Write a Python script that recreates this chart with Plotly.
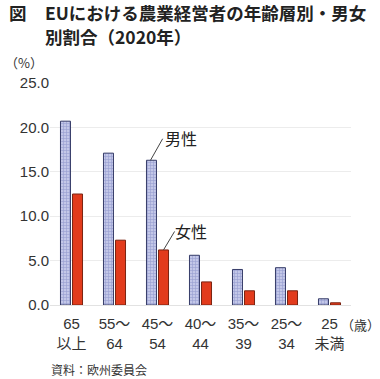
import plotly.graph_objects as go

categories = ["65<br>以上", "55～<br>64", "45～<br>54", "40～<br>44", "35～<br>39", "25～<br>34", "25<br>未満"]
male = [20.7, 17.1, 16.3, 5.6, 4.0, 4.2, 0.7]
female = [12.5, 7.3, 6.2, 2.6, 1.6, 1.6, 0.25]
y_ticks = [0, 5, 10, 15, 20, 25]
y_ticklabels = ["0.0", "5.0", "10.0", "15.0", "20.0", "25.0"]

W, H = 380, 379
L, R, T, B = 50, 29, 83, 74
PW = W - L - R
PH = H - T - B

def px(x):
    return (x - L) / PW

def py(y):
    return (H - B - y) / PH

FONT = "Liberation Sans, Arial, Noto Sans CJK JP, sans-serif"
CJK = "Noto Sans CJK JP, sans-serif"

fig = go.Figure()
fig.add_trace(go.Bar(
    x=categories, y=male, name="男性",
    marker=dict(color="#c3c7e8", line=dict(color="#363c68", width=1),
                pattern=dict(shape="+", fgcolor="#6a74b8", size=3, solidity=0.35)),
))
fig.add_trace(go.Bar(
    x=categories, y=female, name="女性",
    marker=dict(color="#e23b1c", line=dict(color="#7a2412", width=1)),
))

ann = []
tfont = dict(family=CJK, size=17.5, color="#222", weight=600)
ann.append(dict(text="図", x=px(7), y=py(13), xref="paper", yref="paper", xanchor="left", yanchor="middle",
                showarrow=False, font=tfont))
ann.append(dict(text="EUにおける農業経営者の年齢層別・男女", x=px(43), y=py(13), xref="paper", yref="paper",
                xanchor="left", yanchor="middle", showarrow=False, font=tfont))
ann.append(dict(text="別割合（2020年）", x=px(43), y=py(36.5), xref="paper", yref="paper",
                xanchor="left", yanchor="middle", showarrow=False, font=tfont))
ann.append(dict(text="（%）", x=px(3), y=py(62), xref="paper", yref="paper", xanchor="left", yanchor="middle",
                showarrow=False, font=dict(family=CJK, size=13, color="#333")))
ann.append(dict(text="（歳）", x=px(339), y=py(324), xref="paper", yref="paper", xanchor="left", yanchor="middle",
                showarrow=False, font=dict(family=CJK, size=13, color="#333")))
ann.append(dict(text="資料：欧州委員会", x=px(49), y=py(369), xref="paper", yref="paper", xanchor="left", yanchor="middle",
                showarrow=False, font=dict(family=CJK, size=12, color="#333")))
# leader lines
ann.append(dict(text="", x=categories[2], y=male[2], xref="x", yref="y", xshift=-7,
                showarrow=True, arrowhead=0, arrowwidth=1, arrowcolor="#444", ax=13, ay=-23, standoff=0))
ann.append(dict(text="男性", x=categories[2], y=male[2], xref="x", yref="y", xshift=5, yshift=22,
                xanchor="left", yanchor="middle", showarrow=False, font=dict(family=CJK, size=16, color="#222")))
ann.append(dict(text="", x=categories[2], y=female[2], xref="x", yref="y", xshift=6,
                showarrow=True, arrowhead=0, arrowwidth=1, arrowcolor="#444", ax=12, ay=-20, standoff=0))
ann.append(dict(text="女性", x=categories[2], y=female[2], xref="x", yref="y", xshift=15, yshift=19,
                xanchor="left", yanchor="middle", showarrow=False, font=dict(family=CJK, size=16, color="#222")))

fig.update_layout(
    width=W, height=H,
    margin=dict(l=L, r=R, t=T, b=B, autoexpand=False),
    paper_bgcolor="white", plot_bgcolor="white",
    barmode="group", bargap=0.44, bargroupgap=0.17,
    showlegend=False,
    annotations=ann,
    xaxis=dict(showgrid=False, showline=True, linecolor="#e2e2e2", linewidth=1, ticks="", automargin=False,
               ticklabelstandoff=5,
               tickfont=dict(family=FONT, size=15, color="#333")),
    yaxis=dict(range=[0, 25], tickvals=y_ticks, ticktext=y_ticklabels, showgrid=True, gridcolor="#ececec",
               zeroline=False, ticks="", showline=False, automargin=False,
               tickfont=dict(family=FONT, size=15, color="#333")),
)

fig.write_html("out.html", config={"displayModeBar": False},
               post_script="document.body.style.margin='0';document.body.style.overflow='hidden';")
